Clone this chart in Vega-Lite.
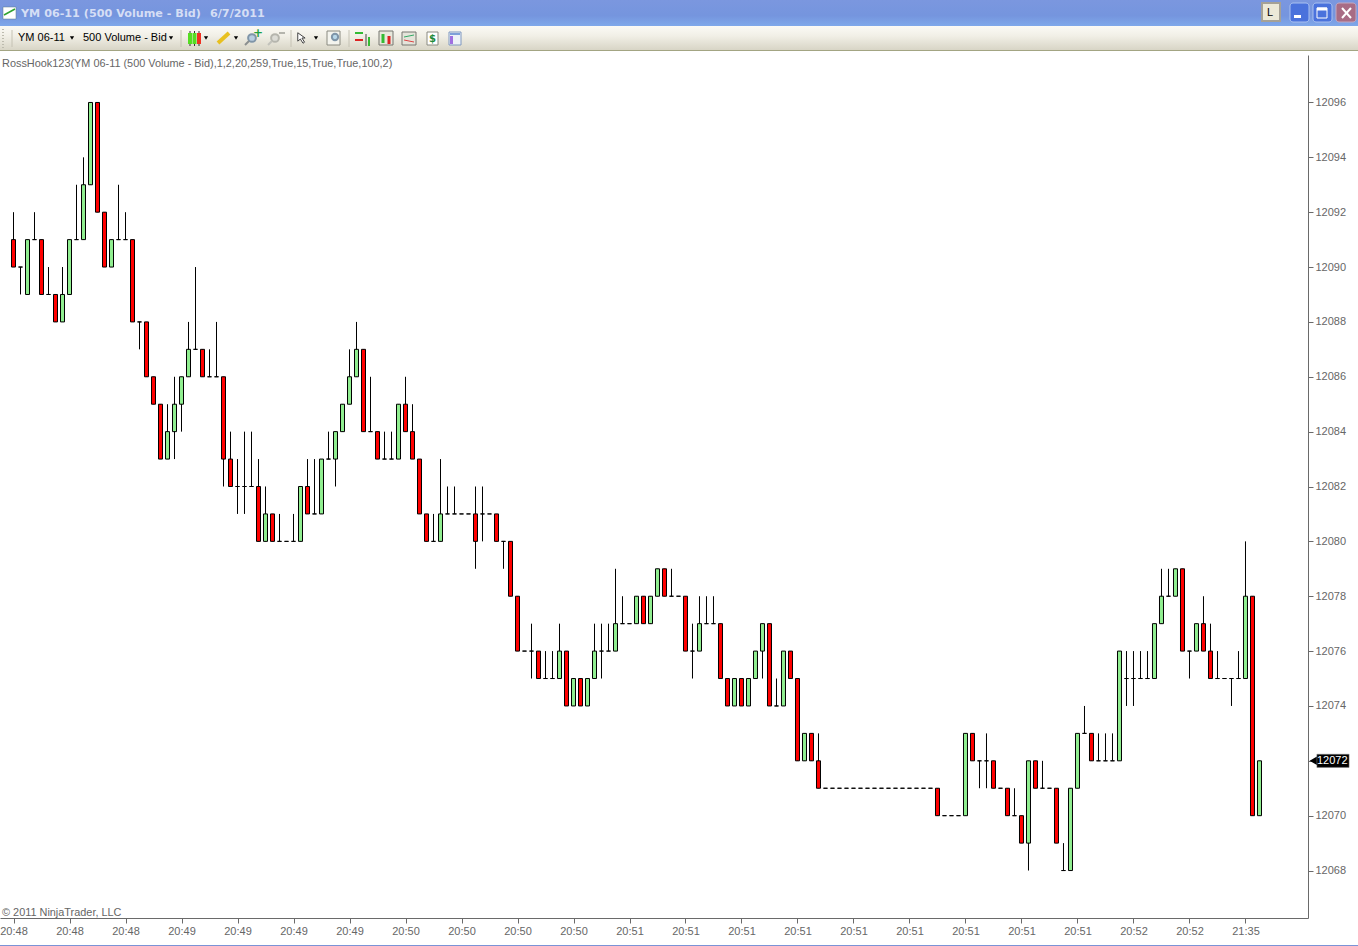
{
  "$schema": "https://vega.github.io/schema/vega-lite/v6.json",
  "padding": {"left": -1, "top": 0, "right": 0, "bottom": 0},
  "spacing": 0,
  "background": "white",
  "datasets": {
    "bars": [
      {"i":0,"open":12091,"high":12092,"low":12090,"close":12090},{"i":1,"open":12090,"high":12090,"low":12089,"close":12090},
      {"i":2,"open":12089,"high":12091,"low":12089,"close":12091},{"i":3,"open":12091,"high":12092,"low":12091,"close":12091},
      {"i":4,"open":12091,"high":12091,"low":12089,"close":12089},{"i":5,"open":12089,"high":12090,"low":12089,"close":12089},
      {"i":6,"open":12089,"high":12089,"low":12088,"close":12088},{"i":7,"open":12088,"high":12090,"low":12088,"close":12089},
      {"i":8,"open":12089,"high":12091,"low":12089,"close":12091},{"i":9,"open":12091,"high":12093,"low":12091,"close":12091},
      {"i":10,"open":12091,"high":12094,"low":12091,"close":12093},{"i":11,"open":12093,"high":12096,"low":12093,"close":12096},
      {"i":12,"open":12096,"high":12096,"low":12092,"close":12092},{"i":13,"open":12092,"high":12092,"low":12090,"close":12090},
      {"i":14,"open":12090,"high":12091,"low":12090,"close":12091},{"i":15,"open":12091,"high":12093,"low":12091,"close":12091},
      {"i":16,"open":12091,"high":12092,"low":12091,"close":12091},{"i":17,"open":12091,"high":12091,"low":12088,"close":12088},
      {"i":18,"open":12088,"high":12088,"low":12087,"close":12088},{"i":19,"open":12088,"high":12088,"low":12086,"close":12086},
      {"i":20,"open":12086,"high":12086,"low":12085,"close":12085},{"i":21,"open":12085,"high":12085,"low":12083,"close":12083},
      {"i":22,"open":12083,"high":12085,"low":12083,"close":12084},{"i":23,"open":12084,"high":12086,"low":12083,"close":12085},
      {"i":24,"open":12085,"high":12086,"low":12084,"close":12086},{"i":25,"open":12086,"high":12088,"low":12086,"close":12087},
      {"i":26,"open":12087,"high":12090,"low":12087,"close":12087},{"i":27,"open":12087,"high":12087,"low":12086,"close":12086},
      {"i":28,"open":12086,"high":12087,"low":12086,"close":12086},{"i":29,"open":12086,"high":12088,"low":12086,"close":12086},
      {"i":30,"open":12086,"high":12086,"low":12082,"close":12083},{"i":31,"open":12083,"high":12084,"low":12082,"close":12082},
      {"i":32,"open":12082,"high":12083,"low":12081,"close":12082},{"i":33,"open":12082,"high":12084,"low":12081,"close":12082},
      {"i":34,"open":12082,"high":12084,"low":12082,"close":12082},{"i":35,"open":12082,"high":12083,"low":12080,"close":12080},
      {"i":36,"open":12080,"high":12082,"low":12080,"close":12081},{"i":37,"open":12081,"high":12081,"low":12080,"close":12080},
      {"i":38,"open":12080,"high":12081,"low":12080,"close":12080},{"i":39,"open":12080,"high":12080,"low":12080,"close":12080},
      {"i":40,"open":12080,"high":12081,"low":12080,"close":12080},{"i":41,"open":12080,"high":12082,"low":12080,"close":12082},
      {"i":42,"open":12082,"high":12083,"low":12081,"close":12081},{"i":43,"open":12081,"high":12083,"low":12081,"close":12081},
      {"i":44,"open":12081,"high":12083,"low":12081,"close":12083},{"i":45,"open":12083,"high":12084,"low":12083,"close":12083},
      {"i":46,"open":12083,"high":12084,"low":12082,"close":12084},{"i":47,"open":12084,"high":12085,"low":12084,"close":12085},
      {"i":48,"open":12085,"high":12087,"low":12085,"close":12086},{"i":49,"open":12086,"high":12088,"low":12086,"close":12087},
      {"i":50,"open":12087,"high":12087,"low":12084,"close":12084},{"i":51,"open":12084,"high":12086,"low":12084,"close":12084},
      {"i":52,"open":12084,"high":12084,"low":12083,"close":12083},{"i":53,"open":12083,"high":12084,"low":12083,"close":12083},
      {"i":54,"open":12083,"high":12084,"low":12083,"close":12083},{"i":55,"open":12083,"high":12085,"low":12083,"close":12085},
      {"i":56,"open":12085,"high":12086,"low":12084,"close":12084},{"i":57,"open":12084,"high":12085,"low":12083,"close":12083},
      {"i":58,"open":12083,"high":12083,"low":12081,"close":12081},{"i":59,"open":12081,"high":12081,"low":12080,"close":12080},
      {"i":60,"open":12080,"high":12081,"low":12080,"close":12080},{"i":61,"open":12080,"high":12083,"low":12080,"close":12081},
      {"i":62,"open":12081,"high":12082,"low":12081,"close":12081},{"i":63,"open":12081,"high":12082,"low":12081,"close":12081},
      {"i":64,"open":12081,"high":12081,"low":12081,"close":12081},{"i":65,"open":12081,"high":12081,"low":12081,"close":12081},
      {"i":66,"open":12081,"high":12082,"low":12079,"close":12080},{"i":67,"open":12081,"high":12082,"low":12080,"close":12081},
      {"i":68,"open":12081,"high":12081,"low":12081,"close":12081},{"i":69,"open":12081,"high":12081,"low":12080,"close":12080},
      {"i":70,"open":12080,"high":12080,"low":12079,"close":12080},{"i":71,"open":12080,"high":12080,"low":12078,"close":12078},
      {"i":72,"open":12078,"high":12078,"low":12076,"close":12076},{"i":73,"open":12076,"high":12076,"low":12076,"close":12076},
      {"i":74,"open":12076,"high":12077,"low":12075,"close":12076},{"i":75,"open":12076,"high":12076,"low":12075,"close":12075},
      {"i":76,"open":12075,"high":12076,"low":12075,"close":12075},{"i":77,"open":12075,"high":12076,"low":12075,"close":12075},
      {"i":78,"open":12075,"high":12077,"low":12075,"close":12076},{"i":79,"open":12076,"high":12076,"low":12074,"close":12074},
      {"i":80,"open":12074,"high":12075,"low":12074,"close":12075},{"i":81,"open":12075,"high":12075,"low":12074,"close":12074},
      {"i":82,"open":12074,"high":12075,"low":12074,"close":12075},{"i":83,"open":12075,"high":12077,"low":12075,"close":12076},
      {"i":84,"open":12076,"high":12077,"low":12075,"close":12076},{"i":85,"open":12076,"high":12077,"low":12076,"close":12076},
      {"i":86,"open":12076,"high":12079,"low":12076,"close":12077},{"i":87,"open":12077,"high":12078,"low":12077,"close":12077},
      {"i":88,"open":12077,"high":12077,"low":12077,"close":12077},{"i":89,"open":12077,"high":12078,"low":12077,"close":12078},
      {"i":90,"open":12078,"high":12078,"low":12077,"close":12077},{"i":91,"open":12077,"high":12078,"low":12077,"close":12078},
      {"i":92,"open":12078,"high":12079,"low":12078,"close":12079},{"i":93,"open":12079,"high":12079,"low":12078,"close":12078},
      {"i":94,"open":12078,"high":12079,"low":12078,"close":12078},{"i":95,"open":12078,"high":12078,"low":12078,"close":12078},
      {"i":96,"open":12078,"high":12078,"low":12076,"close":12076},{"i":97,"open":12076,"high":12077,"low":12075,"close":12076},
      {"i":98,"open":12076,"high":12078,"low":12076,"close":12077},{"i":99,"open":12077,"high":12078,"low":12077,"close":12077},
      {"i":100,"open":12077,"high":12078,"low":12077,"close":12077},{"i":101,"open":12077,"high":12077,"low":12075,"close":12075},
      {"i":102,"open":12075,"high":12075,"low":12074,"close":12074},{"i":103,"open":12074,"high":12075,"low":12074,"close":12075},
      {"i":104,"open":12075,"high":12075,"low":12074,"close":12074},{"i":105,"open":12074,"high":12075,"low":12074,"close":12075},
      {"i":106,"open":12075,"high":12076,"low":12075,"close":12076},{"i":107,"open":12076,"high":12077,"low":12075,"close":12077},
      {"i":108,"open":12077,"high":12077,"low":12074,"close":12074},{"i":109,"open":12074,"high":12075,"low":12074,"close":12074},
      {"i":110,"open":12074,"high":12076,"low":12074,"close":12076},{"i":111,"open":12076,"high":12076,"low":12075,"close":12075},
      {"i":112,"open":12075,"high":12075,"low":12072,"close":12072},{"i":113,"open":12072,"high":12073,"low":12072,"close":12073},
      {"i":114,"open":12073,"high":12073,"low":12072,"close":12072},{"i":115,"open":12072,"high":12073,"low":12071,"close":12071},
      {"i":116,"open":12071,"high":12071,"low":12071,"close":12071},{"i":117,"open":12071,"high":12071,"low":12071,"close":12071},
      {"i":118,"open":12071,"high":12071,"low":12071,"close":12071},{"i":119,"open":12071,"high":12071,"low":12071,"close":12071},
      {"i":120,"open":12071,"high":12071,"low":12071,"close":12071},{"i":121,"open":12071,"high":12071,"low":12071,"close":12071},
      {"i":122,"open":12071,"high":12071,"low":12071,"close":12071},{"i":123,"open":12071,"high":12071,"low":12071,"close":12071},
      {"i":124,"open":12071,"high":12071,"low":12071,"close":12071},{"i":125,"open":12071,"high":12071,"low":12071,"close":12071},
      {"i":126,"open":12071,"high":12071,"low":12071,"close":12071},{"i":127,"open":12071,"high":12071,"low":12071,"close":12071},
      {"i":128,"open":12071,"high":12071,"low":12071,"close":12071},{"i":129,"open":12071,"high":12071,"low":12071,"close":12071},
      {"i":130,"open":12071,"high":12071,"low":12071,"close":12071},{"i":131,"open":12071,"high":12071,"low":12071,"close":12071},
      {"i":132,"open":12071,"high":12071,"low":12070,"close":12070},{"i":133,"open":12070,"high":12070,"low":12070,"close":12070},
      {"i":134,"open":12070,"high":12070,"low":12070,"close":12070},{"i":135,"open":12070,"high":12070,"low":12070,"close":12070},
      {"i":136,"open":12070,"high":12073,"low":12070,"close":12073},{"i":137,"open":12073,"high":12073,"low":12072,"close":12072},
      {"i":138,"open":12072,"high":12072,"low":12071,"close":12072},{"i":139,"open":12072,"high":12073,"low":12071,"close":12072},
      {"i":140,"open":12072,"high":12072,"low":12071,"close":12071},{"i":141,"open":12071,"high":12071,"low":12071,"close":12071},
      {"i":142,"open":12071,"high":12071,"low":12070,"close":12070},{"i":143,"open":12070,"high":12071,"low":12070,"close":12070},
      {"i":144,"open":12070,"high":12070,"low":12069,"close":12069},{"i":145,"open":12069,"high":12072,"low":12068,"close":12072},
      {"i":146,"open":12072,"high":12072,"low":12071,"close":12071},{"i":147,"open":12071,"high":12072,"low":12071,"close":12071},
      {"i":148,"open":12071,"high":12071,"low":12071,"close":12071},{"i":149,"open":12071,"high":12071,"low":12069,"close":12069},
      {"i":150,"open":12068,"high":12069,"low":12068,"close":12068},{"i":151,"open":12068,"high":12071,"low":12068,"close":12071},
      {"i":152,"open":12071,"high":12073,"low":12071,"close":12073},{"i":153,"open":12073,"high":12074,"low":12073,"close":12073},
      {"i":154,"open":12073,"high":12073,"low":12072,"close":12072},{"i":155,"open":12072,"high":12073,"low":12072,"close":12072},
      {"i":156,"open":12072,"high":12073,"low":12072,"close":12072},{"i":157,"open":12072,"high":12073,"low":12072,"close":12072},
      {"i":158,"open":12072,"high":12076,"low":12072,"close":12076},{"i":159,"open":12075,"high":12076,"low":12074,"close":12075},
      {"i":160,"open":12075,"high":12076,"low":12074,"close":12075},{"i":161,"open":12075,"high":12076,"low":12075,"close":12075},
      {"i":162,"open":12075,"high":12076,"low":12075,"close":12075},{"i":163,"open":12075,"high":12077,"low":12075,"close":12077},
      {"i":164,"open":12077,"high":12079,"low":12077,"close":12078},{"i":165,"open":12078,"high":12079,"low":12078,"close":12078},
      {"i":166,"open":12078,"high":12079,"low":12078,"close":12079},{"i":167,"open":12079,"high":12079,"low":12076,"close":12076},
      {"i":168,"open":12076,"high":12076,"low":12075,"close":12076},{"i":169,"open":12076,"high":12077,"low":12076,"close":12077},
      {"i":170,"open":12077,"high":12078,"low":12076,"close":12076},{"i":171,"open":12076,"high":12077,"low":12075,"close":12075},
      {"i":172,"open":12075,"high":12076,"low":12075,"close":12075},{"i":173,"open":12075,"high":12075,"low":12075,"close":12075},
      {"i":174,"open":12075,"high":12075,"low":12074,"close":12075},{"i":175,"open":12075,"high":12076,"low":12075,"close":12075},
      {"i":176,"open":12075,"high":12080,"low":12075,"close":12078},{"i":177,"open":12078,"high":12078,"low":12070,"close":12070},
      {"i":178,"open":12070,"high":12072,"low":12070,"close":12072}
    ]
  },
  "vconcat": [
    {
      "width": 1358,
      "height": 26,
      "data": {"values": [{}]},
      "layer": [
        {
          "mark": {"type": "rect", "color": {"gradient": "linear", "x1": 0, "y1": 0, "x2": 0, "y2": 1, "stops": [{"offset": 0, "color": "#7b97df"}, {"offset": 0.6, "color": "#7595de"}, {"offset": 1, "color": "#7fa8ea"}]}},
          "encoding": {
            "x": {"datum": 0, "scale": {"domain": [0, 1358], "nice": false, "zero": false}},
            "x2": {"datum": 1358},
            "y": {"datum": 0, "scale": {"domain": [26, 0], "nice": false, "zero": false}},
            "y2": {"datum": 26}
          }
        },
        {"mark": {"type": "rect", "fill": "white", "stroke": "#5a7a8a", "strokeWidth": 0.5}, "encoding": {"x": {"datum": 3}, "x2": {"datum": 16}, "y": {"datum": 7}, "y2": {"datum": 19}}},
        {"mark": {"type": "rule", "stroke": "#2fa32f", "strokeWidth": 1.5}, "encoding": {"x": {"datum": 4}, "x2": {"datum": 15}, "y": {"datum": 15}, "y2": {"datum": 9}}},
        {"mark": {"type": "text", "text": "YM 06-11 (500 Volume - Bid)", "align": "left", "baseline": "middle", "font": "DejaVu Sans", "fontWeight": "bold", "fontSize": 11.2, "fill": "#d5def5"}, "encoding": {"x": {"datum": 21}, "y": {"datum": 13.5}}},
        {"mark": {"type": "text", "text": "6/7/2011", "align": "left", "baseline": "middle", "font": "DejaVu Sans", "fontWeight": "bold", "fontSize": 11.2, "fill": "#d5def5"}, "encoding": {"x": {"datum": 210}, "y": {"datum": 13.5}}},
        {"mark": {"type": "rect", "fill": "#ece9d8", "stroke": "#a5a196", "strokeWidth": 2}, "encoding": {"x": {"datum": 1262}, "x2": {"datum": 1280}, "y": {"datum": 3}, "y2": {"datum": 21}}},
        {"mark": {"type": "text", "text": "L", "font": "Liberation Sans", "fontSize": 11, "fill": "black", "baseline": "middle"}, "encoding": {"x": {"datum": 1270}, "y": {"datum": 13}}},
        {"mark": {"type": "rect", "fill": "#4a72dc", "stroke": "#a9c0f0", "strokeWidth": 1, "cornerRadius": 3}, "encoding": {"x": {"datum": 1290}, "x2": {"datum": 1309}, "y": {"datum": 3}, "y2": {"datum": 22}}},
        {"mark": {"type": "rect", "fill": "white"}, "encoding": {"x": {"datum": 1294}, "x2": {"datum": 1301}, "y": {"datum": 15}, "y2": {"datum": 18}}},
        {"mark": {"type": "rect", "fill": "#4a72dc", "stroke": "#a9c0f0", "strokeWidth": 1, "cornerRadius": 3}, "encoding": {"x": {"datum": 1313}, "x2": {"datum": 1332}, "y": {"datum": 3}, "y2": {"datum": 22}}},
        {"mark": {"type": "rect", "fill": "#4a72dc", "stroke": "white", "strokeWidth": 1}, "encoding": {"x": {"datum": 1317}, "x2": {"datum": 1327}, "y": {"datum": 8}, "y2": {"datum": 18}}},
        {"mark": {"type": "rule", "stroke": "white", "strokeWidth": 3}, "encoding": {"x": {"datum": 1317}, "x2": {"datum": 1327}, "y": {"datum": 9}, "y2": {"datum": 9}}},
        {"mark": {"type": "rect", "fill": "#a86c85", "stroke": "#c4a8c0", "strokeWidth": 1, "cornerRadius": 3}, "encoding": {"x": {"datum": 1336}, "x2": {"datum": 1356}, "y": {"datum": 3}, "y2": {"datum": 22}}},
        {"mark": {"type": "rule", "stroke": "white", "strokeWidth": 2}, "encoding": {"x": {"datum": 1342}, "x2": {"datum": 1351}, "y": {"datum": 8}, "y2": {"datum": 18}}},
        {"mark": {"type": "rule", "stroke": "white", "strokeWidth": 2}, "encoding": {"x": {"datum": 1342}, "x2": {"datum": 1351}, "y": {"datum": 18}, "y2": {"datum": 8}}}
      ]
    },
    {
      "width": 1358,
      "height": 25,
      "data": {"values": [{}]},
      "layer": [
        {
          "mark": {"type": "rect", "color": {"gradient": "linear", "x1": 0, "y1": 0, "x2": 0, "y2": 1, "stops": [{"offset": 0, "color": "#fbfaf5"}, {"offset": 0.4, "color": "#f1efe6"}, {"offset": 0.96, "color": "#d8d5c6"}, {"offset": 0.97, "color": "#a3a583"}, {"offset": 1, "color": "#a3a583"}]}},
          "encoding": {
            "x": {"datum": 0, "scale": {"domain": [0, 1358], "nice": false, "zero": false}},
            "x2": {"datum": 1358},
            "y": {"datum": 26, "scale": {"domain": [51, 26], "nice": false, "zero": false}},
            "y2": {"datum": 51}
          }
        },
        {"mark": {"type": "rule", "stroke": "#bdbbae", "strokeDash": [1, 2], "strokeWidth": 2}, "encoding": {"x": {"datum": 3}, "y": {"datum": 29}, "y2": {"datum": 48}}},
        {"mark": {"type": "rule", "stroke": "#c5c2b4"}, "encoding": {"x": {"datum": 12}, "y": {"datum": 30}, "y2": {"datum": 47}}},
        {"mark": {"type": "rule", "stroke": "#c5c2b4"}, "encoding": {"x": {"datum": 181}, "y": {"datum": 30}, "y2": {"datum": 47}}},
        {"mark": {"type": "rule", "stroke": "#c5c2b4"}, "encoding": {"x": {"datum": 291}, "y": {"datum": 30}, "y2": {"datum": 47}}},
        {"mark": {"type": "rule", "stroke": "#c5c2b4"}, "encoding": {"x": {"datum": 349}, "y": {"datum": 30}, "y2": {"datum": 47}}},
        {"mark": {"type": "text", "text": "YM 06-11", "align": "left", "baseline": "middle", "font": "Liberation Sans", "fontSize": 11, "fill": "black"}, "encoding": {"x": {"datum": 18}, "y": {"datum": 38}}},
        {"mark": {"type": "text", "text": "500 Volume - Bid", "align": "left", "baseline": "middle", "font": "Liberation Sans", "fontSize": 11, "fill": "black"}, "encoding": {"x": {"datum": 83}, "y": {"datum": 38}}},
        {"mark": {"type": "point", "shape": "triangle-down", "filled": true, "color": "black", "size": 18, "opacity": 1}, "encoding": {"x": {"datum": 72}, "y": {"datum": 38}}},
        {"mark": {"type": "point", "shape": "triangle-down", "filled": true, "color": "black", "size": 18, "opacity": 1}, "encoding": {"x": {"datum": 171}, "y": {"datum": 38}}},
        {"mark": {"type": "point", "shape": "triangle-down", "filled": true, "color": "black", "size": 18, "opacity": 1}, "encoding": {"x": {"datum": 206}, "y": {"datum": 38}}},
        {"mark": {"type": "point", "shape": "triangle-down", "filled": true, "color": "black", "size": 18, "opacity": 1}, "encoding": {"x": {"datum": 236}, "y": {"datum": 38}}},
        {"mark": {"type": "point", "shape": "triangle-down", "filled": true, "color": "black", "size": 18, "opacity": 1}, "encoding": {"x": {"datum": 316}, "y": {"datum": 38}}},
        {"mark": {"type": "rule", "stroke": "#333333"}, "encoding": {"x": {"datum": 190}, "y": {"datum": 31}, "y2": {"datum": 46}}},
        {"mark": {"type": "rule", "stroke": "#333333"}, "encoding": {"x": {"datum": 194.5}, "y": {"datum": 31}, "y2": {"datum": 46}}},
        {"mark": {"type": "rule", "stroke": "#333333"}, "encoding": {"x": {"datum": 199}, "y": {"datum": 31}, "y2": {"datum": 46}}},
        {"mark": {"type": "rect", "fill": "#55dd22"}, "encoding": {"x": {"datum": 188}, "x2": {"datum": 192}, "y": {"datum": 33}, "y2": {"datum": 44}}},
        {"mark": {"type": "rect", "fill": "#55dd22"}, "encoding": {"x": {"datum": 192.5}, "x2": {"datum": 196.5}, "y": {"datum": 33}, "y2": {"datum": 44}}},
        {"mark": {"type": "rect", "fill": "#f03020"}, "encoding": {"x": {"datum": 197}, "x2": {"datum": 201}, "y": {"datum": 33}, "y2": {"datum": 44}}},
        {"mark": {"type": "rule", "stroke": "#e8c020", "strokeWidth": 4}, "encoding": {"x": {"datum": 218}, "x2": {"datum": 229}, "y": {"datum": 43}, "y2": {"datum": 33}}},
        {"mark": {"type": "point", "shape": "circle", "filled": true, "color": "#b8cde0", "size": 60, "opacity": 1, "stroke": "#7f95a8"}, "encoding": {"x": {"datum": 252}, "y": {"datum": 38}}},
        {"mark": {"type": "rule", "stroke": "#8b8f8f", "strokeWidth": 2}, "encoding": {"x": {"datum": 245}, "x2": {"datum": 249}, "y": {"datum": 45}, "y2": {"datum": 41}}},
        {"mark": {"type": "text", "text": "+", "font": "DejaVu Sans", "fontWeight": "bold", "fontSize": 12, "fill": "#20a040", "baseline": "middle"}, "encoding": {"x": {"datum": 258}, "y": {"datum": 33}}},
        {"mark": {"type": "point", "shape": "circle", "filled": true, "color": "#dcdcd6", "size": 60, "opacity": 1, "stroke": "#b5b5ad"}, "encoding": {"x": {"datum": 275}, "y": {"datum": 38}}},
        {"mark": {"type": "rule", "stroke": "#c2c2bb", "strokeWidth": 2}, "encoding": {"x": {"datum": 268}, "x2": {"datum": 272}, "y": {"datum": 45}, "y2": {"datum": 41}}},
        {"mark": {"type": "rule", "stroke": "#b5b5ad", "strokeWidth": 2}, "encoding": {"x": {"datum": 279}, "x2": {"datum": 285}, "y": {"datum": 33}, "y2": {"datum": 33}}},
        {"mark": {"type": "point", "shape": "M -1 -1 L -1 0.6 L -0.5 0.2 L 0 1 L 0.3 0.8 L -0.2 0 L 0.4 0 Z", "filled": true, "color": "white", "stroke": "#444444", "strokeWidth": 1, "size": 110, "opacity": 1}, "encoding": {"x": {"datum": 303}, "y": {"datum": 38}}},
        {"mark": {"type": "rect", "fill": "#f4f4ee", "stroke": "#8a8a80"}, "encoding": {"x": {"datum": 327}, "x2": {"datum": 340}, "y": {"datum": 31}, "y2": {"datum": 45}}},
        {"mark": {"type": "point", "shape": "circle", "filled": true, "color": "#b8d8ea", "size": 40, "opacity": 1, "stroke": "#7f95a8"}, "encoding": {"x": {"datum": 335}, "y": {"datum": 37}}},
        {"mark": {"type": "rule", "stroke": "#33bb33", "strokeWidth": 2}, "encoding": {"x": {"datum": 355}, "x2": {"datum": 363}, "y": {"datum": 33}, "y2": {"datum": 33}}},
        {"mark": {"type": "rule", "stroke": "#dd2222", "strokeWidth": 2}, "encoding": {"x": {"datum": 355}, "x2": {"datum": 363}, "y": {"datum": 40}, "y2": {"datum": 40}}},
        {"mark": {"type": "rule", "stroke": "#444444"}, "encoding": {"x": {"datum": 366}, "y": {"datum": 34}, "y2": {"datum": 46}}},
        {"mark": {"type": "rule", "stroke": "#33bb33", "strokeWidth": 2}, "encoding": {"x": {"datum": 369}, "y": {"datum": 37}, "y2": {"datum": 46}}},
        {"mark": {"type": "rect", "fill": "#e8e8dc", "stroke": "#777770"}, "encoding": {"x": {"datum": 379}, "x2": {"datum": 393}, "y": {"datum": 31}, "y2": {"datum": 45}}},
        {"mark": {"type": "rule", "stroke": "#33bb33", "strokeWidth": 3}, "encoding": {"x": {"datum": 383}, "y": {"datum": 34}, "y2": {"datum": 43}}},
        {"mark": {"type": "rule", "stroke": "#dd2222", "strokeWidth": 3}, "encoding": {"x": {"datum": 389}, "y": {"datum": 36}, "y2": {"datum": 44}}},
        {"mark": {"type": "rect", "fill": "#e4e4da", "stroke": "#777770"}, "encoding": {"x": {"datum": 402}, "x2": {"datum": 416}, "y": {"datum": 32}, "y2": {"datum": 45}}},
        {"mark": {"type": "rule", "stroke": "#33aa66"}, "encoding": {"x": {"datum": 404}, "x2": {"datum": 414}, "y": {"datum": 37}, "y2": {"datum": 35}}},
        {"mark": {"type": "rule", "stroke": "#dd4444"}, "encoding": {"x": {"datum": 404}, "x2": {"datum": 414}, "y": {"datum": 40}, "y2": {"datum": 42}}},
        {"mark": {"type": "rect", "fill": "white", "stroke": "#8a8a80"}, "encoding": {"x": {"datum": 427}, "x2": {"datum": 438}, "y": {"datum": 32}, "y2": {"datum": 45}}},
        {"mark": {"type": "text", "text": "$", "font": "DejaVu Sans", "fontWeight": "bold", "fontSize": 10, "fill": "#1f8a3a", "baseline": "middle"}, "encoding": {"x": {"datum": 432.5}, "y": {"datum": 39}}},
        {"mark": {"type": "rect", "fill": "#eef2f8", "stroke": "#7f98c0"}, "encoding": {"x": {"datum": 449}, "x2": {"datum": 461}, "y": {"datum": 32}, "y2": {"datum": 45}}},
        {"mark": {"type": "rect", "fill": "#a070e0"}, "encoding": {"x": {"datum": 450}, "x2": {"datum": 453}, "y": {"datum": 36}, "y2": {"datum": 44}}},
        {"mark": {"type": "rect", "fill": "#7fa0d8"}, "encoding": {"x": {"datum": 450}, "x2": {"datum": 460}, "y": {"datum": 33}, "y2": {"datum": 35}}}
      ]
    },
    {
      "width": 1358,
      "height": 4,
      "data": {"values": [{}]},
      "mark": {"type": "rect", "opacity": 0},
      "encoding": {}
    },
    {
      "width": 1308,
      "height": 863,
      "data": {"name": "bars"},
      "layer": [
        {
          "mark": {"type": "rule", "stroke": "black", "strokeWidth": 1},
          "encoding": {
            "x": {
              "field": "i",
              "type": "quantitative",
              "scale": {"domain": [-1.93, 184.93], "nice": false, "zero": false, "padding": 0},
              "axis": {
                "title": null,
                "values": [0, 8, 16, 24, 32, 40, 48, 56, 64, 72, 80, 88, 96, 104, 112, 120, 128, 136, 144, 152, 160, 168, 176],
                "labelExpr": "['20:48','20:48','20:48','20:49','20:49','20:49','20:49','20:50','20:50','20:50','20:50','20:51','20:51','20:51','20:51','20:51','20:51','20:51','20:51','20:51','20:52','20:52','21:35'][datum.value / 8]",
                "grid": false,
                "domainColor": "#6a6a6a",
                "tickColor": "#6a6a6a",
                "tickSize": 5,
                "labelColor": "#666666",
                "labelFont": "Liberation Sans",
                "labelFontSize": 11,
                "labelPadding": 2,
                "labelOverlap": false,
                "labelFlush": false,
                "minExtent": 27,
                "maxExtent": 27
              }
            },
            "y": {
              "field": "low",
              "type": "quantitative",
              "scale": {"domain": [12066.27, 12097.73], "nice": false, "zero": false},
              "axis": {
                "title": null,
                "orient": "right",
                "values": [12068, 12070, 12072, 12074, 12076, 12078, 12080, 12082, 12084, 12086, 12088, 12090, 12092, 12094, 12096],
                "labelExpr": "datum.value == 12072 ? '' : format(datum.value, 'd')",
                "grid": false,
                "domainColor": "#6a6a6a",
                "tickColor": "#6a6a6a",
                "tickSize": 5,
                "labelColor": "#666666",
                "labelFont": "Liberation Sans",
                "labelFontSize": 11,
                "labelPadding": 2,
                "minExtent": 50,
                "maxExtent": 50
              }
            },
            "y2": {"field": "high"}
          }
        },
        {
          "mark": {"type": "bar", "orient": "vertical", "size": 4, "stroke": "black", "strokeWidth": 1},
          "encoding": {
            "x": {"field": "i", "type": "quantitative", "scale": {"domain": [-1.93, 184.93], "nice": false, "zero": false, "padding": 0}, "axis": {"title": null}},
            "y": {"field": "open", "type": "quantitative", "scale": {"domain": [12066.27, 12097.73], "nice": false, "zero": false}, "axis": {"title": null}},
            "y2": {"field": "close"},
            "fill": {
              "condition": {"test": "datum.close > datum.open", "value": "#90ee90"},
              "value": "#ff0000"
            }
          }
        },
        {
          "data": {"values": [{}]},
          "mark": {"type": "text", "text": "RossHook123(YM 06-11 (500 Volume - Bid),1,2,20,259,True,15,True,True,100,2)", "align": "left", "baseline": "middle", "font": "Liberation Sans", "fontSize": 10.9, "fill": "#666666"},
          "encoding": {
            "x": {"datum": -1.64, "scale": {"domain": [-1.93, 184.93], "nice": false, "zero": false, "padding": 0}, "axis": {"title": null}},
            "y": {"datum": 12097.41, "scale": {"domain": [12066.27, 12097.73], "nice": false, "zero": false}, "axis": {"title": null}}
          }
        },
        {
          "data": {"values": [{}]},
          "mark": {"type": "text", "text": "© 2011 NinjaTrader, LLC", "align": "left", "baseline": "middle", "font": "Liberation Sans", "fontSize": 10.9, "fill": "#666666"},
          "encoding": {
            "x": {"datum": -1.64, "scale": {"domain": [-1.93, 184.93], "nice": false, "zero": false, "padding": 0}, "axis": {"title": null}},
            "y": {"datum": 12066.46, "scale": {"domain": [12066.27, 12097.73], "nice": false, "zero": false}, "axis": {"title": null}}
          }
        },
        {
          "data": {"values": [{}]},
          "mark": {"type": "point", "shape": "triangle-left", "filled": true, "color": "black", "size": 90, "opacity": 1, "clip": false},
          "encoding": {
            "x": {"datum": 185.75, "scale": {"domain": [-1.93, 184.93], "nice": false, "zero": false, "padding": 0}, "axis": {"title": null}},
            "y": {"datum": 12072, "scale": {"domain": [12066.27, 12097.73], "nice": false, "zero": false}, "axis": {"title": null}}
          }
        },
        {
          "data": {"values": [{}]},
          "mark": {"type": "rect", "fill": "black", "stroke": "#888888", "strokeWidth": 0.5, "clip": false},
          "encoding": {
            "x": {"datum": 186.2, "scale": {"domain": [-1.93, 184.93], "nice": false, "zero": false, "padding": 0}, "axis": {"title": null}},
            "x2": {"datum": 190.8},
            "y": {"datum": 12072.24, "scale": {"domain": [12066.27, 12097.73], "nice": false, "zero": false}, "axis": {"title": null}},
            "y2": {"datum": 12071.76}
          }
        },
        {
          "data": {"values": [{}]},
          "mark": {"type": "text", "text": "12072", "baseline": "middle", "font": "Liberation Sans", "fontSize": 11, "fill": "white", "clip": false},
          "encoding": {
            "x": {"datum": 188.4, "scale": {"domain": [-1.93, 184.93], "nice": false, "zero": false, "padding": 0}, "axis": {"title": null}},
            "y": {"datum": 12072, "scale": {"domain": [12066.27, 12097.73], "nice": false, "zero": false}, "axis": {"title": null}}
          }
        }
      ]
    },
    {
      "width": 1358,
      "height": 1,
      "data": {"values": [{}]},
      "mark": {"type": "rect", "color": "#7b93d6"},
      "encoding": {}
    }
  ],
  "config": {
    "view": {"stroke": null},
    "axis": {"disable": true},
    "concat": {"spacing": 0}
  }
}
